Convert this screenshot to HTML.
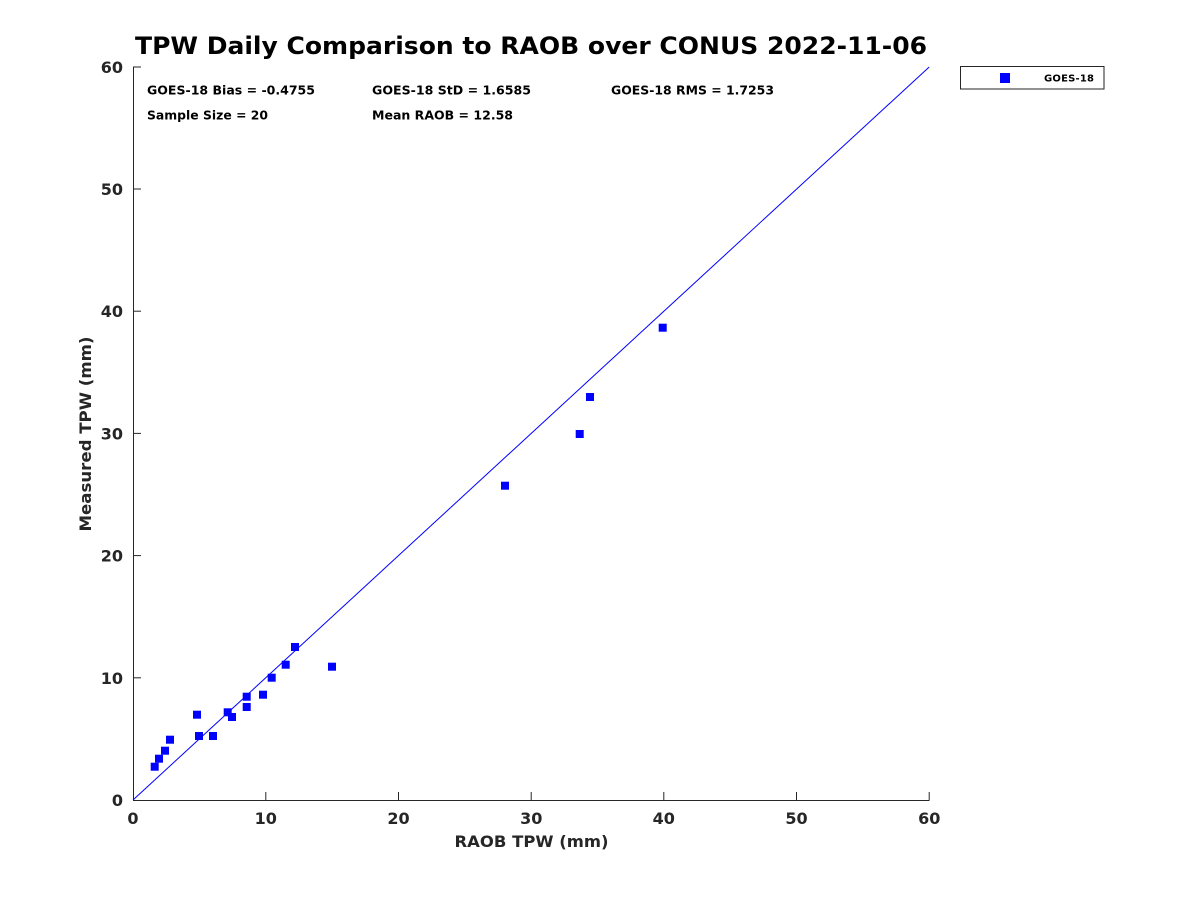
<!DOCTYPE html>
<html>
<head>
<meta charset="utf-8">
<style>
html,body{margin:0;padding:0;background:#fff;}
svg{display:block;}
text{font-family:"DejaVu Sans","Liberation Sans",sans-serif;font-weight:bold;}
</style>
</head>
<body>
<svg width="1200" height="900" viewBox="0 0 1200 900" xmlns="http://www.w3.org/2000/svg">
<rect x="0" y="0" width="1200" height="900" fill="#ffffff"/>

<!-- Title -->
<text x="135" y="54" font-size="24" fill="#000" textLength="792" lengthAdjust="spacingAndGlyphs">TPW Daily Comparison to RAOB over CONUS 2022-11-06</text>

<!-- Axes -->
<g stroke="#262626" stroke-width="1" fill="none">
  <line x1="133.5" y1="67" x2="133.5" y2="800.5"/>
  <line x1="133" y1="800.5" x2="929.5" y2="800.5"/>
  <!-- x ticks -->
  <line x1="265.8" y1="800" x2="265.8" y2="792"/>
  <line x1="398.5" y1="800" x2="398.5" y2="792"/>
  <line x1="531.2" y1="800" x2="531.2" y2="792"/>
  <line x1="663.8" y1="800" x2="663.8" y2="792"/>
  <line x1="796.5" y1="800" x2="796.5" y2="792"/>
  <line x1="929.2" y1="800" x2="929.2" y2="792"/>
  <!-- y ticks -->
  <line x1="133" y1="677.8" x2="141" y2="677.8"/>
  <line x1="133" y1="555.6" x2="141" y2="555.6"/>
  <line x1="133" y1="433.4" x2="141" y2="433.4"/>
  <line x1="133" y1="311.2" x2="141" y2="311.2"/>
  <line x1="133" y1="189" x2="141" y2="189"/>
  <line x1="133" y1="67" x2="141" y2="67"/>
</g>

<!-- x tick labels -->
<g font-size="16" fill="#262626" text-anchor="middle">
  <text x="133" y="824">0</text>
  <text x="265.8" y="824">10</text>
  <text x="398.5" y="824">20</text>
  <text x="531.2" y="824">30</text>
  <text x="663.8" y="824">40</text>
  <text x="796.5" y="824">50</text>
  <text x="929.2" y="824">60</text>
</g>
<!-- y tick labels -->
<g font-size="16" fill="#262626" text-anchor="end">
  <text x="123" y="806">0</text>
  <text x="123" y="684">10</text>
  <text x="123" y="561.6">20</text>
  <text x="123" y="439.4">30</text>
  <text x="123" y="317.2">40</text>
  <text x="123" y="195">50</text>
  <text x="123" y="73">60</text>
</g>

<!-- Axis labels -->
<text x="531.5" y="847" font-size="16" fill="#262626" text-anchor="middle" textLength="154" lengthAdjust="spacingAndGlyphs">RAOB TPW (mm)</text>
<text transform="translate(91,434) rotate(-90)" x="0" y="0" font-size="16" fill="#262626" text-anchor="middle" textLength="195" lengthAdjust="spacingAndGlyphs">Measured TPW (mm)</text>

<!-- Stats text -->
<g font-size="12" fill="#000">
  <text x="147" y="94.5" textLength="168" lengthAdjust="spacingAndGlyphs">GOES-18 Bias = -0.4755</text>
  <text x="372" y="94.5" textLength="159" lengthAdjust="spacingAndGlyphs">GOES-18 StD = 1.6585</text>
  <text x="611" y="94.5" textLength="163" lengthAdjust="spacingAndGlyphs">GOES-18 RMS = 1.7253</text>
  <text x="147" y="119.5" textLength="121" lengthAdjust="spacingAndGlyphs">Sample Size = 20</text>
  <text x="372" y="119.5" textLength="141" lengthAdjust="spacingAndGlyphs">Mean RAOB = 12.58</text>
</g>

<!-- 1:1 line -->
<line x1="133" y1="800" x2="929.2" y2="67" stroke="#0000ff" stroke-width="1"/>

<!-- Data points -->
<g fill="#0000ff">
  <rect x="150.7" y="762.7" width="8" height="8"/>
  <rect x="155" y="754.7" width="8" height="8"/>
  <rect x="161" y="746.7" width="8" height="8"/>
  <rect x="166" y="735.7" width="8" height="8"/>
  <rect x="193" y="710.7" width="8" height="8"/>
  <rect x="195" y="732" width="8" height="8"/>
  <rect x="209" y="732" width="8" height="8"/>
  <rect x="223.7" y="708.3" width="8" height="8"/>
  <rect x="228" y="713" width="8" height="8"/>
  <rect x="242.7" y="692.7" width="8" height="8"/>
  <rect x="242.7" y="703" width="8" height="8"/>
  <rect x="259" y="690.7" width="8" height="8"/>
  <rect x="267.7" y="673.7" width="8" height="8"/>
  <rect x="281.7" y="660.7" width="8" height="8"/>
  <rect x="291" y="643" width="8" height="8"/>
  <rect x="328" y="662.7" width="8" height="8"/>
  <rect x="501" y="481.7" width="8" height="8"/>
  <rect x="575.7" y="430" width="8" height="8"/>
  <rect x="586" y="393" width="8" height="8"/>
  <rect x="658.7" y="323.7" width="8" height="8"/>
</g>

<!-- Legend -->
<rect x="960.5" y="66.5" width="143.5" height="22.5" fill="#fff" stroke="#262626" stroke-width="1"/>
<rect x="1000" y="73" width="10" height="10" fill="#0000ff"/>
<text x="1044" y="81.5" font-size="10" fill="#000" textLength="50" lengthAdjust="spacing">GOES-18</text>
</svg>
</body>
</html>
